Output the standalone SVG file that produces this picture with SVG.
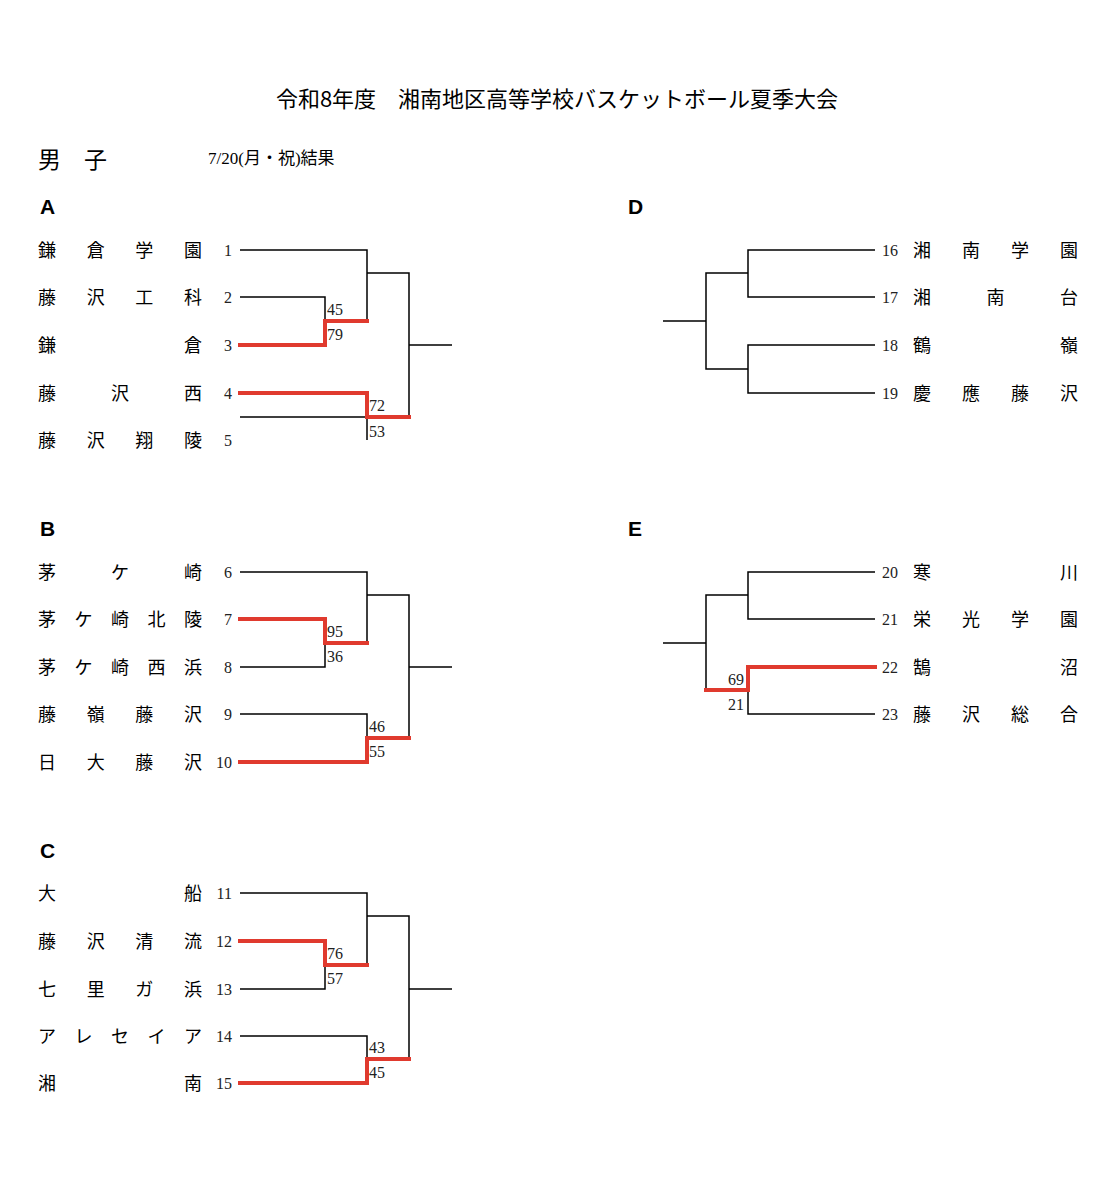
<svg xmlns="http://www.w3.org/2000/svg" width="1116" height="1200" viewBox="0 0 1116 1200">
<style>
.n{font-family:"Noto Sans CJK JP","Noto Sans",sans-serif;font-size:18px;fill:#000}
.s{font-family:"Liberation Serif",serif;font-size:16px;fill:#222}
.b{stroke:#000;stroke-width:1.5;fill:none}
.r{stroke:#e03a2e;stroke-width:4;fill:none;stroke-linecap:square}
.h{font-family:"Liberation Sans",sans-serif;font-weight:bold;font-size:21px}
</style>
<rect width="1116" height="1200" fill="#fff"/>
<text x="557" y="107" text-anchor="middle" font-family="Noto Sans CJK JP,sans-serif" font-size="22">令和8年度　湘南地区高等学校バスケットボール夏季大会</text>
<text x="38" y="168" font-family="Noto Sans CJK JP,sans-serif" font-size="23">男　子</text>
<text x="208" y="164" font-family="Liberation Serif,Noto Sans CJK JP,serif" font-size="17">7/20(月・祝)結果</text>
<text class="h" x="40" y="214">A</text><text class="h" x="40" y="536">B</text><text class="h" x="40" y="858">C</text>
<text class="h" x="628" y="214">D</text><text class="h" x="628" y="536">E</text>
<g id="teams-left">
<text class="n" x="38" y="257" textLength="164" lengthAdjust="spacing">鎌倉学園</text><text class="s" x="232" y="256" text-anchor="end">1</text>
<text class="n" x="38" y="304" textLength="164" lengthAdjust="spacing">藤沢工科</text><text class="s" x="232" y="303" text-anchor="end">2</text>
<text class="n" x="38" y="352" textLength="164" lengthAdjust="spacing">鎌倉</text><text class="s" x="232" y="351" text-anchor="end">3</text>
<text class="n" x="38" y="400" textLength="164" lengthAdjust="spacing">藤沢西</text><text class="s" x="232" y="399" text-anchor="end">4</text>
<text class="n" x="38" y="447" textLength="164" lengthAdjust="spacing">藤沢翔陵</text><text class="s" x="232" y="446" text-anchor="end">5</text>
<text class="n" x="38" y="579" textLength="164" lengthAdjust="spacing">茅ケ崎</text><text class="s" x="232" y="578" text-anchor="end">6</text>
<text class="n" x="38" y="626" textLength="164" lengthAdjust="spacing">茅ケ崎北陵</text><text class="s" x="232" y="625" text-anchor="end">7</text>
<text class="n" x="38" y="674" textLength="164" lengthAdjust="spacing">茅ケ崎西浜</text><text class="s" x="232" y="673" text-anchor="end">8</text>
<text class="n" x="38" y="721" textLength="164" lengthAdjust="spacing">藤嶺藤沢</text><text class="s" x="232" y="720" text-anchor="end">9</text>
<text class="n" x="38" y="769" textLength="164" lengthAdjust="spacing">日大藤沢</text><text class="s" x="232" y="768" text-anchor="end">10</text>
<text class="n" x="38" y="900" textLength="164" lengthAdjust="spacing">大船</text><text class="s" x="232" y="899" text-anchor="end">11</text>
<text class="n" x="38" y="948" textLength="164" lengthAdjust="spacing">藤沢清流</text><text class="s" x="232" y="947" text-anchor="end">12</text>
<text class="n" x="38" y="996" textLength="164" lengthAdjust="spacing">七里ガ浜</text><text class="s" x="232" y="995" text-anchor="end">13</text>
<text class="n" x="38" y="1043" textLength="164" lengthAdjust="spacing">アレセイア</text><text class="s" x="232" y="1042" text-anchor="end">14</text>
<text class="n" x="38" y="1090" textLength="164" lengthAdjust="spacing">湘南</text><text class="s" x="232" y="1089" text-anchor="end">15</text>
</g>
<g id="teams-right">
<text class="s" x="882" y="256">16</text><text class="n" x="913" y="257" textLength="165" lengthAdjust="spacing">湘南学園</text>
<text class="s" x="882" y="303">17</text><text class="n" x="913" y="304" textLength="165" lengthAdjust="spacing">湘南台</text>
<text class="s" x="882" y="351">18</text><text class="n" x="913" y="352" textLength="165" lengthAdjust="spacing">鶴嶺</text>
<text class="s" x="882" y="399">19</text><text class="n" x="913" y="400" textLength="165" lengthAdjust="spacing">慶應藤沢</text>
<text class="s" x="882" y="578">20</text><text class="n" x="913" y="579" textLength="165" lengthAdjust="spacing">寒川</text>
<text class="s" x="882" y="625">21</text><text class="n" x="913" y="626" textLength="165" lengthAdjust="spacing">栄光学園</text>
<text class="s" x="882" y="673">22</text><text class="n" x="913" y="674" textLength="165" lengthAdjust="spacing">鵠沼</text>
<text class="s" x="882" y="720">23</text><text class="n" x="913" y="721" textLength="165" lengthAdjust="spacing">藤沢総合</text>
</g>
<g id="connectors">
<path class="b" d="M240 250H367V321M240 297H325V321M367 440V417H240M367 273H409V417M409 345H452"/>
<path class="r" d="M240 345H325V321H367M240 393H367V417H409"/>
<path class="b" d="M240 572H367V643M240 667H325V643M240 714H367V738M367 595H409V738M409 667H452"/>
<path class="r" d="M240 619H325V643H367M240 762H367V738H409"/>
<path class="b" d="M240 893H367V965M240 989H325V965M240 1036H367V1059M367 916H409V1059M409 989H452"/>
<path class="r" d="M240 941H325V965H367M240 1083H367V1059H409"/>
<path class="b" d="M875 250H748V297H875M875 345H748V393H875M748 273H706V369H748M706 321H663"/>
<path class="b" d="M875 572H748V619H875M748 595H706V690M748 690V714H875M706 643H663"/>
<path class="r" d="M875 667H748V690H706"/>
</g>
<g id="scores" class="s">
<text class="s" x="327" y="315">45</text><text class="s" x="327" y="340">79</text>
<text class="s" x="369" y="411">72</text><text class="s" x="369" y="437">53</text>
<text class="s" x="327" y="637">95</text><text class="s" x="327" y="662">36</text>
<text class="s" x="369" y="732">46</text><text class="s" x="369" y="757">55</text>
<text class="s" x="327" y="959">76</text><text class="s" x="327" y="984">57</text>
<text class="s" x="369" y="1053">43</text><text class="s" x="369" y="1078">45</text>
<text class="s" x="744" y="685" text-anchor="end">69</text><text class="s" x="744" y="710" text-anchor="end">21</text>
</g>
</svg>
